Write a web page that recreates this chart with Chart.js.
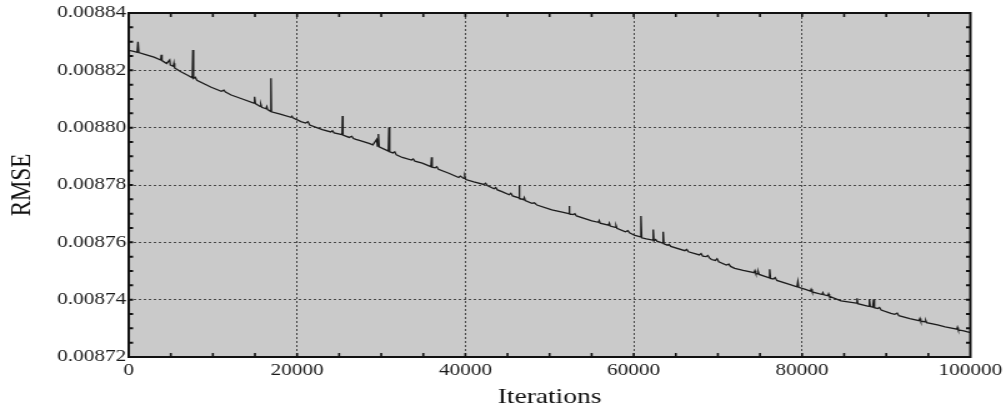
<!DOCTYPE html>
<html>
<head>
<meta charset="utf-8">
<script src="https://cdn.jsdelivr.net/npm/chart.js@4"></script>
<style>
  html, body { margin: 0; padding: 0; background: #fff; }
  /* the original figure is stretched sideways, so draw narrow and widen it with css */
  #rmse { display: block; width: 1006px !important; height: 407px !important; }
</style>
</head>
<body>
<canvas id="rmse" width="805" height="407" style="width:1006px;height:407px"></canvas>
<script>
// iterations (spikes are three close points)
const iterations = [
  0, 600, 1000, 1100, 1200, 2000, 3000, 3800, 3870, 3950,
  4500, 4860, 4950, 5300, 5370, 5450, 6200, 7000, 7550, 7620,
  7700, 7900, 8100, 9800, 11000, 11300, 11500, 12170, 13500, 14850,
  14950, 15050, 15600, 15700, 15800, 16300, 16400, 16500, 16850, 16900,
  16950, 18000, 19270, 19400, 19500, 20460, 21000, 21300, 21500, 23000,
  24000, 24200, 24400, 25350, 25400, 25450, 26200, 26500, 26700, 26990,
  27500, 28550, 29000, 29460, 29550, 29660, 29750, 30850, 30920, 31000,
  31400, 31600, 31800, 32500, 33600, 33800, 34000, 34870, 35900, 35980,
  36050, 36400, 36600, 36800, 38030, 39200, 39400, 39800, 39930, 40050,
  41000, 42180, 42400, 42600, 43400, 43600, 43800, 44350, 45200, 45400,
  45600, 46350, 46400, 46450, 46900, 47000, 47100, 47900, 48200, 48500,
  50270, 51500, 52280, 52330, 52400, 52800, 53000, 53200, 55020, 55800,
  55900, 56000, 57000, 57100, 57200, 57800, 57900, 58000, 59000, 59300,
  59500, 60150, 60800, 60860, 60950, 61500, 62250, 62320, 62400, 62600,
  62800, 63450, 63500, 63580, 64000, 64200, 64400, 66070, 66300, 66500,
  67800, 68000, 68200, 68600, 68800, 69000, 69230, 69700, 69900, 70100,
  71000, 71300, 71500, 72000, 73000, 74300, 74400, 74500, 74700, 74800,
  74900, 76100, 76150, 76250, 76600, 76800, 77000, 78500, 79400, 79500,
  79600, 80300, 81000, 81080, 81200, 82400, 82470, 82600, 83060, 83150,
  83250, 84630, 86450, 86530, 86620, 87900, 88000, 88100, 88400, 88500,
  88600, 89000, 89200, 89400, 90560, 91000, 91300, 91500, 92800, 93900,
  94000, 94100, 94600, 94700, 94800, 96090, 97000, 98400, 98460, 98550,
  99200, 100000
];

const rmse = [
  0.0088270, 0.0088266, 0.0088263, 0.0088300, 0.0088262, 0.0088255, 0.0088246, 0.0088236, 0.0088254, 0.0088234,
  0.0088224, 0.0088236, 0.0088218, 0.0088214, 0.0088225, 0.0088208, 0.0088195, 0.0088183, 0.0088174, 0.0088271,
  0.0088172, 0.0088176, 0.0088165, 0.0088141, 0.0088127, 0.0088131, 0.0088124, 0.0088114, 0.0088100, 0.0088086,
  0.0088108, 0.0088084, 0.0088074, 0.0088081, 0.0088071, 0.0088066, 0.0088073, 0.0088063, 0.0088057, 0.0088172,
  0.0088055, 0.0088047, 0.0088036, 0.0088040, 0.0088034, 0.0088021, 0.0088016, 0.0088021, 0.0088009, 0.0087993,
  0.0087985, 0.0087989, 0.0087982, 0.0087976, 0.0088041, 0.0087974, 0.0087966, 0.0087970, 0.0087962, 0.0087959,
  0.0087955, 0.0087945, 0.0087940, 0.0087959, 0.0087936, 0.0087978, 0.0087933, 0.0087918, 0.0088001, 0.0087916,
  0.0087912, 0.0087916, 0.0087905, 0.0087896, 0.0087887, 0.0087891, 0.0087883, 0.0087876, 0.0087864, 0.0087897,
  0.0087862, 0.0087860, 0.0087864, 0.0087855, 0.0087841, 0.0087826, 0.0087831, 0.0087823, 0.0087831, 0.0087819,
  0.0087811, 0.0087802, 0.0087806, 0.0087798, 0.0087787, 0.0087791, 0.0087783, 0.0087777, 0.0087766, 0.0087771,
  0.0087762, 0.0087755, 0.0087800, 0.0087753, 0.0087749, 0.0087756, 0.0087746, 0.0087736, 0.0087738, 0.0087730,
  0.0087713, 0.0087705, 0.0087700, 0.0087727, 0.0087699, 0.0087697, 0.0087700, 0.0087692, 0.0087675, 0.0087670,
  0.0087676, 0.0087667, 0.0087660, 0.0087667, 0.0087657, 0.0087652, 0.0087658, 0.0087649, 0.0087637, 0.0087641,
  0.0087633, 0.0087624, 0.0087619, 0.0087692, 0.0087616, 0.0087612, 0.0087608, 0.0087645, 0.0087605, 0.0087610,
  0.0087603, 0.0087597, 0.0087637, 0.0087595, 0.0087590, 0.0087593, 0.0087586, 0.0087571, 0.0087575, 0.0087567,
  0.0087556, 0.0087561, 0.0087552, 0.0087550, 0.0087554, 0.0087546, 0.0087540, 0.0087537, 0.0087543, 0.0087532,
  0.0087521, 0.0087524, 0.0087516, 0.0087509, 0.0087502, 0.0087494, 0.0087501, 0.0087492, 0.0087490, 0.0087497,
  0.0087488, 0.0087476, 0.0087506, 0.0087474, 0.0087472, 0.0087477, 0.0087467, 0.0087453, 0.0087445, 0.0087463,
  0.0087443, 0.0087437, 0.0087430, 0.0087436, 0.0087427, 0.0087418, 0.0087424, 0.0087417, 0.0087414, 0.0087420,
  0.0087412, 0.0087396, 0.0087388, 0.0087405, 0.0087386, 0.0087377, 0.0087401, 0.0087376, 0.0087374, 0.0087401,
  0.0087372, 0.0087369, 0.0087373, 0.0087364, 0.0087352, 0.0087349, 0.0087353, 0.0087344, 0.0087334, 0.0087327,
  0.0087334, 0.0087325, 0.0087323, 0.0087327, 0.0087320, 0.0087312, 0.0087305, 0.0087297, 0.0087303, 0.0087295,
  0.0087291, 0.0087285
];

const xTicks = [0, 20000, 40000, 60000, 80000, 100000];
const yTicks = [0.00872, 0.00874, 0.00876, 0.00878, 0.00880, 0.00882, 0.00884];

const serif = '"Liberation Serif", "Times New Roman", serif';

// gray plot background
const plotBackground = {
  id: 'plotBackground',
  beforeDraw(chart) {
    const { ctx, chartArea: a } = chart;
    ctx.save();
    ctx.fillStyle = '#cacaca';
    ctx.fillRect(a.left, a.top, a.right - a.left, a.bottom - a.top);
    ctx.restore();
  }
};

// black frame plus small inward ticks on all four sides
const frameTicks = {
  id: 'frameTicks',
  afterDraw(chart) {
    const { ctx, chartArea: a, scales } = chart;
    ctx.save();
    ctx.strokeStyle = '#111';
    ctx.lineWidth = 1.6;
    for (let v = 5000; v < 100000; v += 5000) {
      const px = scales.x.getPixelForValue(v);
      ctx.beginPath();
      ctx.moveTo(px, a.bottom); ctx.lineTo(px, a.bottom - 4);
      ctx.moveTo(px, a.top); ctx.lineTo(px, a.top + 4);
      ctx.stroke();
    }
    ctx.lineWidth = 2;
    for (let i = 1; i < 24; i++) {
      const py = scales.y.getPixelForValue(0.00872 + i * 0.000005);
      ctx.beginPath();
      ctx.moveTo(a.left, py); ctx.lineTo(a.left + 3.5, py);
      ctx.moveTo(a.right, py); ctx.lineTo(a.right - 3.5, py);
      ctx.stroke();
    }
    ctx.lineWidth = 2;
    ctx.strokeRect(a.left, a.top, a.right - a.left, a.bottom - a.top);
    ctx.restore();
  }
};

new Chart(document.getElementById('rmse'), {
  type: 'line',
  data: {
    datasets: [{
      data: iterations.map((it, i) => ({ x: it, y: rmse[i] })),
      borderColor: '#1c1c1c',
      borderWidth: 1.3,
      pointRadius: 0,
      tension: 0,
      fill: false
    }]
  },
  options: {
    responsive: false,
    devicePixelRatio: 1,
    animation: false,
    layout: { padding: { left: 0, right: 27, top: 13, bottom: 0 } },
    plugins: { legend: { display: false }, tooltip: { enabled: false } },
    scales: {
      x: {
        type: 'linear',
        min: 0,
        max: 100000,
        afterFit(scale) { scale.height = 50; },
        afterBuildTicks(scale) { scale.ticks = xTicks.map(v => ({ value: v })); },
        grid: { color: '#474747', lineWidth: 1, drawTicks: false },
        border: { display: false, dash: [2, 2] },
        ticks: {
          padding: 3,
          color: '#1a1a1a',
          maxRotation: 0,
          font: { family: serif, size: 17 },
          callback: v => String(v)
        },
        title: {
          display: true,
          text: 'Iterations',
          color: '#111',
          padding: { top: 0, bottom: 0 },
          font: { family: serif, size: 22, lineHeight: 0.85 }
        }
      },
      y: {
        min: 0.00872,
        max: 0.00884,
        afterFit(scale) { scale.width = 103; },
        afterBuildTicks(scale) { scale.ticks = yTicks.map(v => ({ value: v })); },
        grid: { color: '#474747', lineWidth: 1, drawTicks: false },
        border: { display: false, dash: [2, 2] },
        ticks: {
          padding: 2,
          color: '#1a1a1a',
          font: { family: serif, size: 17 },
          callback: v => v.toFixed(5)
        },
        title: {
          display: true,
          text: 'RMSE',
          color: '#111',
          padding: { top: 5, bottom: 0 },
          font: { family: serif, size: 23, lineHeight: 1.1 }
        }
      }
    }
  },
  plugins: [plotBackground, frameTicks]
});
</script>
</body>
</html>
